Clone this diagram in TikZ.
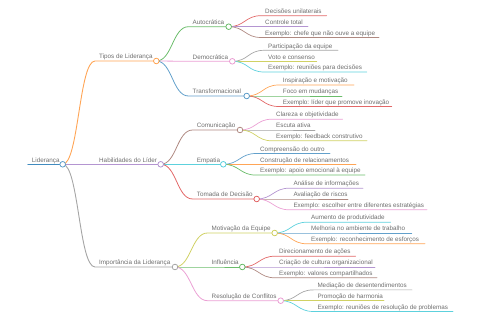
\documentclass[tikz,border=0pt]{standalone}
\usepackage{fontspec}
\setmainfont{Liberation Sans}
\definecolor{cblue}{HTML}{1F77B4}
\definecolor{corange}{HTML}{FF7F0E}
\definecolor{cgreen}{HTML}{2CA02C}
\definecolor{cred}{HTML}{D62728}
\definecolor{cpurple}{HTML}{9467BD}
\definecolor{cbrown}{HTML}{8C564B}
\definecolor{cpink}{HTML}{E377C2}
\definecolor{cgray}{HTML}{7F7F7F}
\definecolor{colive}{HTML}{BCBD22}
\definecolor{ccyan}{HTML}{17BECF}
\definecolor{txt}{HTML}{6E6E6E}
\tikzset{
  lbl/.style={anchor=base west, inner sep=0pt, font=\fontsize{6.3}{7}\selectfont, text=txt},
  dot/.style={circle, draw=#1!75!white, fill=white, line width=0.75pt, minimum size=5.6pt, inner sep=0pt},
}
\newcommand\mmnode[5]{%
  \coordinate (#1-l) at (#2,#4);
  \coordinate (#1) at (#3,#4);
  \node[lbl] (#1-t) at ({#2+4},{#4-2.2}) {#5};
}
\newcommand\mmlink[4][0.7pt]{%
  \draw[draw=#4!70!white, line width=#1, line cap=round] (#2) .. controls +(16,0) and +(-16,0) .. (#3-l) -- (#3);
}
\begin{document}
\begin{tikzpicture}[x=1pt,y=-1pt]
\useasboundingbox (0,0) rectangle (480,320);
% root
\coordinate (root-l) at (28,164.3);
\coordinate (root) at (62.7,164.3);
\node[lbl] (root-t) at (31.7,162.1) {Liderança};
% level 1
\mmnode{tipos}{95}{156.3}{61}{Tipos de Liderança}
\mmnode{hab}{95}{160.7}{164.3}{Habilidades do Líder}
\mmnode{imp}{95}{175}{267}{Importância da Liderança}
% level 2
\mmnode{auto}{188.5}{228.7}{26.7}{Autocrática}
\mmnode{demo}{188.5}{232.3}{61.3}{Democrática}
\mmnode{trans}{188.5}{246.7}{96}{Transformacional}
\mmnode{com}{192.7}{240}{130}{Comunicação}
\mmnode{emp}{192.7}{223.3}{164.3}{Empatia}
\mmnode{tom}{192.7}{256.7}{199}{Tomada de Decisão}
\mmnode{mot}{207.5}{274.7}{233}{Motivação da Equipe}
\mmnode{inf}{207.5}{242.3}{267}{Influência}
\mmnode{res}{207.5}{280.7}{300.7}{Resolução de Conflitos}
% leaves
\mmnode{au1}{261}{326.7}{15.7}{Decisões unilaterais}
\mmnode{au2}{261}{308}{26.7}{Controle total}
\mmnode{au3}{261}{379}{37.5}{Exemplo: chefe que não ouve a equipe}
\mmnode{de1}{264}{338}{50.3}{Participação da equipe}
\mmnode{de2}{264}{316.7}{61.3}{Voto e consenso}
\mmnode{de3}{264}{366.7}{72}{Exemplo: reuniões para decisões}
\mmnode{tr1}{278.7}{354}{85}{Inspiração e motivação}
\mmnode{tr2}{278.7}{342}{96}{Foco em mudanças}
\mmnode{tr3}{278.7}{391.7}{106.5}{Exemplo: líder que promove inovação}
\mmnode{co1}{272}{342.7}{119.2}{Clareza e objetividade}
\mmnode{co2}{272}{315}{130}{Escuta ativa}
\mmnode{co3}{272}{367}{140.8}{Exemplo: feedback construtivo}
\mmnode{em1}{256}{330}{153.5}{Compreensão do outro}
\mmnode{em2}{256}{356}{164.3}{Construção de relacionamentos}
\mmnode{em3}{256}{365}{175.1}{Exemplo: apoio emocional à equipe}
\mmnode{to1}{289.3}{363}{188.2}{Análise de informações}
\mmnode{to2}{289.3}{348}{199}{Avaliação de riscos}
\mmnode{to3}{289.3}{427}{209.8}{Exemplo: escolher entre diferentes estratégias}
\mmnode{mo1}{307}{390.7}{222.2}{Aumento de produtividade}
\mmnode{mo2}{307}{411.7}{233}{Melhoria no ambiente de trabalho}
\mmnode{mo3}{307}{425}{243.8}{Exemplo: reconhecimento de esforços}
\mmnode{in1}{275}{355.7}{256.2}{Direcionamento de ações}
\mmnode{in2}{275}{375}{267}{Criação de cultura organizacional}
\mmnode{in3}{275}{377}{277.8}{Exemplo: valores compartilhados}
\mmnode{re1}{313.3}{412}{289.9}{Mediação de desentendimentos}
\mmnode{re2}{313.3}{384}{300.7}{Promoção de harmonia}
\mmnode{re3}{313.3}{453}{311.5}{Exemplo: reuniões de resolução de problemas}
% links
\draw[draw=cblue!85!white, line width=1.2pt, line cap=round] (root-l) -- (root);
\mmlink[0.9pt]{root}{tipos}{corange}
\mmlink[0.9pt]{root}{hab}{cpurple}
\mmlink[0.9pt]{root}{imp}{cgray}
\mmlink[0.8pt]{tipos}{auto}{cgreen}
\mmlink[0.8pt]{tipos}{demo}{cpink}
\mmlink[0.8pt]{tipos}{trans}{cblue}
\mmlink[0.8pt]{hab}{com}{cbrown}
\mmlink[0.8pt]{hab}{emp}{ccyan}
\mmlink[0.8pt]{hab}{tom}{cred}
\mmlink[0.8pt]{imp}{mot}{colive}
\mmlink[0.8pt]{imp}{inf}{cgreen}
\mmlink[0.8pt]{imp}{res}{cpink}
\mmlink{auto}{au1}{cred}
\mmlink{auto}{au2}{cpurple}
\mmlink{auto}{au3}{cbrown}
\mmlink{demo}{de1}{cgray}
\mmlink{demo}{de2}{colive}
\mmlink{demo}{de3}{ccyan}
\mmlink{trans}{tr1}{corange}
\mmlink{trans}{tr2}{cgreen}
\mmlink{trans}{tr3}{cred}
\mmlink{com}{co1}{cpink}
\mmlink{com}{co2}{cgray}
\mmlink{com}{co3}{colive}
\mmlink{emp}{em1}{cblue}
\mmlink{emp}{em2}{corange}
\mmlink{emp}{em3}{cgreen}
\mmlink{tom}{to1}{cpurple}
\mmlink{tom}{to2}{cbrown}
\mmlink{tom}{to3}{cpink}
\mmlink{mot}{mo1}{ccyan}
\mmlink{mot}{mo2}{cblue}
\mmlink{mot}{mo3}{corange}
\mmlink{inf}{in1}{cred}
\mmlink{inf}{in2}{cpurple}
\mmlink{inf}{in3}{cbrown}
\mmlink{res}{re1}{cgray}
\mmlink{res}{re2}{colive}
\mmlink{res}{re3}{ccyan}
% circles
\node[dot=cblue] (root-c) at (root) {};
\node[dot=corange] (tipos-c) at (tipos) {};
\node[dot=cpurple] (hab-c) at (hab) {};
\node[dot=cgray] (imp-c) at (imp) {};
\node[dot=cgreen] (auto-c) at (auto) {};
\node[dot=cpink] (demo-c) at (demo) {};
\node[dot=cblue] (trans-c) at (trans) {};
\node[dot=cbrown] (com-c) at (com) {};
\node[dot=ccyan] (emp-c) at (emp) {};
\node[dot=cred] (tom-c) at (tom) {};
\node[dot=colive] (mot-c) at (mot) {};
\node[dot=cgreen] (inf-c) at (inf) {};
\node[dot=cpink] (res-c) at (res) {};
\end{tikzpicture}
\end{document}
